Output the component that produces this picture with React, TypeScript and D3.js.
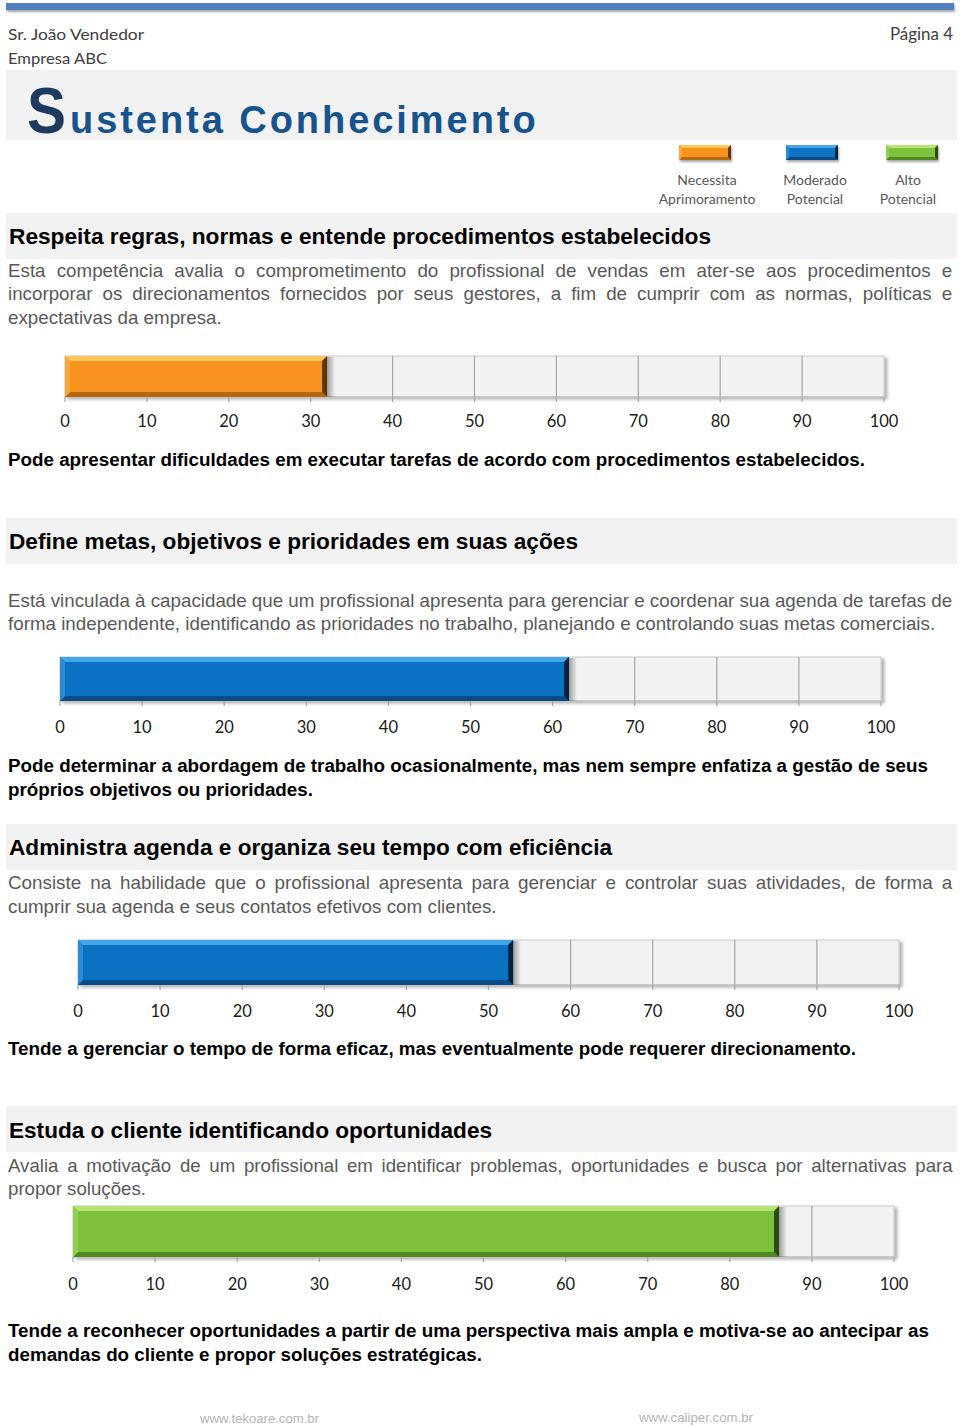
import React, { useLayoutEffect, useRef, useState } from "react";
import * as d3 from "d3";

// ---------- data ----------
const personName = "Sr. João Vendedor";
const companyName = "Empresa ABC";
const pageLabel = "Página 4";
const titleInitial = "S";
const titleRest = "ustenta Conhecimento";

const legendLabels: string[][] = [
  ["Necessita", "Aprimoramento"],
  ["Moderado", "Potencial"],
  ["Alto", "Potencial"],
];
const levelKeys = ["necessita", "moderado", "alto"];

const competencyTitles = [
  "Respeita regras, normas e entende procedimentos estabelecidos",
  "Define metas, objetivos e prioridades em suas ações",
  "Administra agenda e organiza seu tempo com eficiência",
  "Estuda o cliente identificando oportunidades",
];

const descriptions: string[][] = [
  [
    "Esta competência avalia o comprometimento do profissional de vendas em ater-se aos procedimentos e",
    "incorporar os direcionamentos fornecidos por seus gestores, a fim de cumprir com as normas, políticas e",
    "expectativas da empresa.",
  ],
  [
    "Está vinculada à capacidade que um profissional apresenta para gerenciar e coordenar sua agenda de tarefas de",
    "forma independente, identificando as prioridades no trabalho, planejando e controlando suas metas comerciais.",
  ],
  [
    "Consiste na habilidade que o profissional apresenta para gerenciar e controlar suas atividades, de forma a",
    "cumprir sua agenda e seus contatos efetivos com clientes.",
  ],
  [
    "Avalia a motivação de um profissional em identificar problemas, oportunidades e busca por alternativas para",
    "propor soluções.",
  ],
];

const scores = [32, 62, 53, 86];
const scoreLevels = [0, 1, 1, 2];

const captions: string[][] = [
  ["Pode apresentar dificuldades em executar tarefas de acordo com procedimentos estabelecidos."],
  [
    "Pode determinar a abordagem de trabalho ocasionalmente, mas nem sempre enfatiza a gestão de seus",
    "próprios objetivos ou prioridades.",
  ],
  ["Tende a gerenciar o tempo de forma eficaz, mas eventualmente pode requerer direcionamento."],
  [
    "Tende a reconhecer oportunidades a partir de uma perspectiva mais ampla e motiva-se ao antecipar as",
    "demandas do cliente e propor soluções estratégicas.",
  ],
];

const tickValues = [0, 10, 20, 30, 40, 50, 60, 70, 80, 90, 100];
const footerLinks = ["www.tekoare.com.br", "www.caliper.com.br"];

// ---------- styles ----------
const palette: Record<string, { base: string; top: string; bottom: string; left: string; right: string }> = {
  necessita: { base: "#F7931E", top: "#FDC65A", bottom: "#B5680F", left: "#F9A63A", right: "#5E3505" },
  moderado: { base: "#0A72C2", top: "#43A6E8", bottom: "#0A4C86", left: "#2A8AD4", right: "#06223E" },
  alto: { base: "#7DC13C", top: "#B7E46E", bottom: "#4F8A20", left: "#92CE52", right: "#2A4A10" },
};

const SANS = "'Liberation Sans', Arial, Helvetica, sans-serif";
const CAL = "Lato, 'Open Sans', sans-serif";

const layout = [
  { hdrY: 213, titleY: 244, titleW: 702, descY: [277, 300, 324], lastW: 214, box: [65, 884, 356, 397], tickY: 427, capY: [466], capW: [857] },
  { hdrY: 518, titleY: 549, titleW: 569, descY: [607, 630], lastW: 928, box: [60, 881, 657, 701], tickY: 733, capY: [772, 796], capW: [920, 305] },
  { hdrY: 824, titleY: 855, titleW: 603, descY: [889, 913], lastW: 489, box: [78, 899, 940, 985], tickY: 1017, capY: [1055], capW: [848] },
  { hdrY: 1106, titleY: 1138, titleW: 483, descY: [1172, 1195], lastW: 138, box: [73, 894, 1206, 1257], tickY: 1290, capY: [1337, 1361], capW: [921, 474] },
];

function pts(a: number[][]) {
  return a.map((p) => p.join(",")).join(" ");
}

function Bevel({ x0, x1, y0, y1, b, level }: any) {
  const c = palette[level];
  if (x1 - x0 < 2 * b) return null;
  return (
    <g>
      <rect x={x0} y={y0} width={x1 - x0} height={y1 - y0} fill={c.base} />
      <polygon points={pts([[x0, y0], [x1, y0], [x1 - b, y0 + b], [x0 + b, y0 + b]])} fill={c.top} />
      <polygon points={pts([[x0, y1], [x1, y1], [x1 - b, y1 - b], [x0 + b, y1 - b]])} fill={c.bottom} />
      <polygon points={pts([[x0, y0], [x0 + b, y0 + b], [x0 + b, y1 - b], [x0, y1]])} fill={c.left} />
      <polygon points={pts([[x1, y0], [x1 - b, y0 + b], [x1 - b, y1 - b], [x1, y1]])} fill={c.right} />
    </g>
  );
}

function Para({ lines, x, ys, fullW, lastW, fontSize, color }: any) {
  const refs = useRef<any[]>([]);
  const [adj, setAdj] = useState<any>(null);
  useLayoutEffect(() => {
    const ws = refs.current.map((t) => (t ? t.getComputedTextLength() : 1));
    const c = lastW / ws[ws.length - 1];
    setAdj({ c, ws });
  }, []);
  return (
    <g>
      {lines.map((ln: string, i: number) => {
        const isLast = i === lines.length - 1;
        let ws = 0;
        let c = 1;
        if (adj) {
          c = adj.c;
          if (!isLast) {
            const n = (ln.match(/ /g) || []).length;
            ws = n ? (fullW / c - adj.ws[i]) / n : 0;
          }
        }
        return (
          <text
            key={i}
            ref={(el) => (refs.current[i] = el)}
            transform={`translate(${x},${ys[i]}) scale(${c},1)`}
            style={{ wordSpacing: ws + "px" }}
            fontFamily={SANS}
            fontSize={fontSize}
            fill={color}
          >
            {ln}
          </text>
        );
      })}
    </g>
  );
}

function Chart({ box, tickY, value, level }: any) {
  const [x0, x1, y0, y1] = box;
  const x = d3.scaleLinear().domain([0, 100]).range([x0, x1]);
  const xe = x(value);
  return (
    <g>
      <rect x={x0} y={y0} width={x1 - x0} height={y1 - y0} fill="#F2F2F2" stroke="#C8C8C8" strokeWidth={1} filter="url(#boxShadow)" />
      {tickValues.map((t) => (
        <line key={t} x1={x(t)} x2={x(t)} y1={t === 0 || t === 100 ? y1 : y0} y2={y1 + 5} stroke="#A6A6A6" strokeWidth={1.2} />
      ))}
      <line x1={x0} x2={x1} y1={y1} y2={y1} stroke="#B5B5B5" />
      <rect x={xe} y={y0 + 1} width={8} height={y1 - y0 - 1} fill={`url(#barShadow)`} />
      <Bevel x0={x0} x1={xe} y0={y0} y1={y1} b={5} level={level} />
      {tickValues.map((t) => (
        <text key={"l" + t} x={x(t)} y={tickY} textAnchor="middle" fontFamily={CAL} fontSize={16.5} fill="#1a1a1a">
          {t}
        </text>
      ))}
    </g>
  );
}

export default function App() {
  const legendX = [[679, 731], [786, 838], [886, 938]];
  const legendCx = [707, 815, 908];
  return (
    <div style={{ position: "absolute", left: 0, top: 0 }}>
      <svg width={960} height={1427} style={{ display: "block", background: "#fff" }}>
        <defs>
          <filter id="boxShadow" x="-5%" y="-20%" width="110%" height="160%">
            <feDropShadow dx={3} dy={2} stdDeviation={1.5} floodColor="#000" floodOpacity={0.3} />
          </filter>
          <filter id="topShadow" x="-5%" y="-50%" width="110%" height="300%">
            <feDropShadow dx={1} dy={2} stdDeviation={1.2} floodColor="#000" floodOpacity={0.35} />
          </filter>
          <linearGradient id="barShadow" x1="0" x2="1" y1="0" y2="0">
            <stop offset="0" stopColor="#000" stopOpacity={0.35} />
            <stop offset="1" stopColor="#000" stopOpacity={0} />
          </linearGradient>
        </defs>

        {/* top rule */}
        <rect x={6} y={3} width={948} height={7} fill="#4F81BD" filter="url(#topShadow)" />

        {/* header */}
        <text x={8} y={40} fontFamily={CAL} fontSize={16} fill="#404040" textLength={136} lengthAdjust="spacingAndGlyphs">{personName}</text>
        <text x={8} y={64} fontFamily={CAL} fontSize={16} fill="#404040" textLength={99} lengthAdjust="spacingAndGlyphs">{companyName}</text>
        <text x={890} y={40} fontFamily={CAL} fontSize={16.5} fill="#404040" textLength={63} lengthAdjust="spacingAndGlyphs">{pageLabel}</text>

        {/* title band */}
        <rect x={6} y={70} width={951} height={70} fill="#F2F2F2" />
        <text x={27} y={133} fontFamily={SANS} fontWeight="bold" fontSize={64} fill="#1F3A5F" textLength={39} lengthAdjust="spacingAndGlyphs">{titleInitial}</text>
        <text x={70} y={133} fontFamily={SANS} fontWeight="bold" fontSize={38} fill="#17548E" letterSpacing={2.95}>{titleRest}</text>

        {/* legend */}
        {legendLabels.map((lab, i) => (
          <g key={i}>
            <g filter="url(#topShadow)">
              <Bevel x0={legendX[i][0]} x1={legendX[i][1]} y0={145} y1={160} b={3} level={levelKeys[i]} />
            </g>
            <text x={legendCx[i]} y={185} textAnchor="middle" fontFamily={CAL} fontSize={14} fill="#595959">{lab[0]}</text>
            <text x={legendCx[i]} y={204} textAnchor="middle" fontFamily={CAL} fontSize={14} fill="#595959">{lab[1]}</text>
          </g>
        ))}

        {/* sections */}
        {competencyTitles.map((title, i) => {
          const L = layout[i];
          return (
            <g key={i}>
              <rect x={6} y={L.hdrY} width={951} height={46} fill="#F2F2F2" />
              <text x={9} y={L.titleY} fontFamily={SANS} fontWeight="bold" fontSize={22} fill="#000" textLength={L.titleW} lengthAdjust="spacingAndGlyphs">{title}</text>
              <Para lines={descriptions[i]} x={8} ys={L.descY} fullW={945} lastW={L.lastW} fontSize={18} color="#595959" />
              <Chart box={L.box} tickY={L.tickY} value={scores[i]} level={levelKeys[scoreLevels[i]]} />
              {captions[i].map((c, j) => (
                <text key={j} x={8} y={L.capY[j]} fontFamily={SANS} fontWeight="bold" fontSize={17.5} fill="#000" textLength={L.capW[j]} lengthAdjust="spacingAndGlyphs">{c}</text>
              ))}
            </g>
          );
        })}

        {/* footer */}
        <text x={200} y={1423} fontFamily={SANS} fontSize={13} fill="#B3B3B3" textLength={119} lengthAdjust="spacingAndGlyphs">{footerLinks[0]}</text>
        <text x={639} y={1422} fontFamily={SANS} fontSize={13} fill="#B3B3B3" textLength={114} lengthAdjust="spacingAndGlyphs">{footerLinks[1]}</text>
      </svg>
    </div>
  );
}
